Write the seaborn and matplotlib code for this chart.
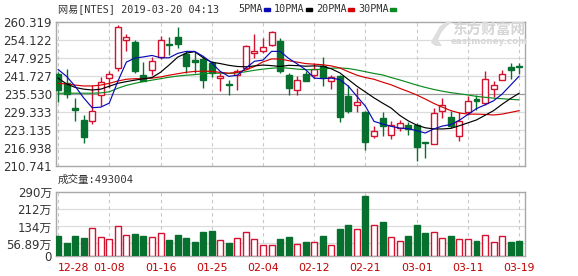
import numpy as np
import pandas as pd
import matplotlib
matplotlib.use("Agg")
import matplotlib.pyplot as plt
from matplotlib.patches import Polygon
import seaborn as sns

# ---------------- data ----------------
dates = ["12-28", "12-31", "01-02", "01-03", "01-04", "01-07", "01-08", "01-09", "01-10", "01-11",
         "01-14", "01-15", "01-16", "01-17", "01-18", "01-22", "01-23", "01-24", "01-25", "01-28",
         "01-29", "01-30", "01-31", "02-01", "02-04", "02-05", "02-06", "02-07", "02-08", "02-11",
         "02-12", "02-13", "02-14", "02-15", "02-19", "02-20", "02-21", "02-22", "02-25", "02-26",
         "02-27", "02-28", "03-01", "03-04", "03-05", "03-06", "03-07", "03-08", "03-11", "03-12",
         "03-13", "03-14", "03-15", "03-18", "03-19"]

open_ = [242.4, 239.2, 230.7, 226.6, 226.3, 235.1, 240.9, 244.5, 254.0, 253.4,
         242.0, 243.7, 248.3, 252.7, 255.2, 249.3, 247.3, 247.6, 246.1, 240.9,
         239.0, 242.2, 244.5, 249.5, 250.2, 252.3, 253.9, 242.0, 237.0, 242.4,
         242.0, 245.3, 240.1, 241.6, 234.7, 231.8, 229.2, 221.0, 227.3, 221.5,
         223.8, 225.0, 224.7, 219.0, 218.4, 229.8, 227.5, 221.0, 229.3, 233.8,
         232.4, 237.4, 240.5, 244.9, 245.1]
high = [243.1, 244.2, 234.2, 228.4, 238.7, 241.3, 243.5, 259.2, 256.2, 254.2,
        246.5, 248.2, 255.4, 255.0, 258.5, 250.2, 250.0, 248.2, 247.0, 242.8,
        240.5, 244.2, 252.5, 256.2, 254.8, 257.3, 254.8, 242.8, 241.6, 243.5,
        246.2, 248.2, 242.2, 242.0, 238.7, 237.6, 229.6, 224.4, 229.3, 226.1,
        226.6, 225.9, 225.5, 219.1, 230.7, 234.2, 229.6, 229.3, 234.7, 235.3,
        243.3, 239.9, 243.9, 246.2, 246.2]
low = [232.9, 234.2, 226.2, 218.7, 225.2, 231.3, 237.6, 243.3, 250.2, 242.8,
       239.9, 242.0, 247.7, 249.1, 251.4, 242.8, 242.8, 237.6, 241.5, 236.4,
       235.1, 237.0, 244.2, 247.9, 249.6, 252.0, 242.8, 235.3, 235.3, 239.9,
       241.0, 238.2, 237.4, 225.9, 229.0, 229.3, 216.4, 220.4, 221.0, 220.1,
       222.8, 221.3, 212.3, 213.5, 218.3, 227.3, 223.8, 219.3, 228.4, 230.1,
       231.8, 234.4, 240.5, 240.8, 242.4]
close = [237.0, 235.5, 230.0, 220.8, 229.6, 239.6, 242.4, 258.6, 255.0, 243.5,
         240.1, 247.0, 254.0, 252.3, 252.7, 245.3, 246.5, 240.5, 242.6, 241.6,
         238.7, 243.3, 252.2, 250.2, 251.6, 256.9, 243.3, 237.6, 240.2, 240.1,
         244.2, 241.3, 241.3, 227.6, 229.8, 232.8, 219.0, 222.7, 224.4, 224.9,
         225.5, 223.6, 217.3, 218.7, 229.0, 231.6, 224.4, 226.3, 233.0, 233.2,
         240.8, 238.5, 242.4, 243.7, 244.7]

# volume in 万 (10k shares)
volume = [90.2, 60.0, 90.0, 82.7, 125.0, 85.7, 76.7, 134.0, 94.7, 99.2,
          90.0, 85.7, 102.0, 72.0, 94.7, 81.0, 64.6, 108.0, 112.8, 70.6,
          58.6, 81.0, 106.7, 76.7, 49.6, 49.6, 76.7, 85.7, 52.6, 64.6,
          63.0, 90.0, 49.6, 123.0, 140.0, 122.0, 270.6, 140.0, 153.0, 85.7,
          67.7, 90.0, 140.0, 103.7, 106.7, 81.0, 90.0, 76.7, 76.7, 67.7,
          94.7, 63.0, 90.0, 63.0, 67.7]

ma5 = [244.0, 241.6, 238.2, 234.2, 230.8, 231.0, 232.4, 239.9, 246.5, 247.9,
       248.3, 248.8, 248.0, 248.0, 249.5, 250.2, 250.2, 248.5, 246.2, 243.3,
       241.6, 242.0, 244.5, 246.8, 247.2, 250.2, 250.2, 247.8, 245.9, 243.9,
       241.0, 240.8, 241.0, 240.5, 238.2, 234.7, 231.3, 226.1, 225.2, 224.4,
       223.8, 223.6, 222.9, 222.1, 223.5, 224.5, 225.0, 226.5, 228.5, 230.5,
       231.8, 233.2, 235.5, 238.6, 241.7]
ma10 = [241.0, 239.0, 237.8, 237.2, 236.9, 237.2, 238.2, 239.2, 239.8, 240.3,
        240.8, 241.2, 243.0, 245.5, 248.2, 249.6, 250.1, 248.0, 246.5, 246.0,
        245.4, 245.0, 244.9, 245.2, 245.5, 245.3, 245.0, 245.4, 245.3, 245.1,
        245.2, 245.1, 244.2, 242.8, 240.5, 238.2, 236.2, 234.2, 232.4, 230.7,
        228.2, 226.3, 224.8, 223.9, 223.5, 223.5, 223.7, 224.6, 225.6, 226.6,
        228.2, 229.8, 232.0, 234.0, 235.8]
ma20 = [239.2, 239.0, 238.6, 238.3, 238.3, 238.6, 239.2, 240.0, 240.6, 240.8,
        240.8, 241.0, 241.4, 242.0, 242.5, 243.0, 243.3, 243.4, 243.3, 243.0,
        242.7, 243.0, 243.8, 245.0, 246.6, 247.6, 247.6, 247.0, 246.5, 246.0,
        245.8, 245.6, 245.2, 244.5, 243.2, 242.0, 241.2, 240.6, 239.6, 238.7,
        237.5, 236.4, 235.2, 233.8, 232.3, 231.0, 229.8, 229.0, 228.6, 228.6,
        228.5, 228.3, 228.6, 229.2, 229.8]
ma30 = [235.8, 235.8, 235.8, 235.8, 235.8, 235.9, 236.3, 237.5, 238.5, 239.2,
        239.8, 240.3, 240.8, 241.3, 241.7, 242.0, 242.2, 242.5, 242.7, 242.7,
        242.6, 242.8, 243.2, 243.7, 244.1, 244.4, 244.6, 244.4, 244.1, 243.9,
        243.9, 244.1, 244.4, 244.5, 244.3, 243.8, 243.2, 242.6, 242.1, 241.2,
        240.4, 239.5, 238.6, 237.8, 237.1, 236.5, 236.0, 235.6, 235.2, 234.7,
        234.4, 234.1, 233.9, 233.7, 233.5]

price_ticks = [210.741, 216.938, 223.135, 229.333, 235.530, 241.727, 247.925, 254.122, 260.319]
vol_ticks = [0, 56.89, 134, 212, 290]
vol_labels = ["0", "56.89万", "134万", "212万", "290万"]
date_tick_idx = [0, 6, 12, 18, 24, 30, 36, 42, 48, 54]

# ---------------- style ----------------
sns.set_style("white")
plt.rcParams['font.family'] = ['DejaVu Sans', 'Noto Sans CJK SC']

RED = "#d2122e"
GREEN = "#08702f"
GRID = "#dcdcdc"
BORDER = "#a8a8a8"
TXT = "#333333"

df = pd.DataFrame({"i": np.arange(len(dates)), "date": dates, "open": open_, "high": high,
                   "low": low, "close": close, "vol": volume,
                   "ma5": ma5, "ma10": ma10, "ma20": ma20, "ma30": ma30})
df["up"] = df["close"] >= df["open"]

W, H = 578, 276
fig = plt.figure(figsize=(W / 100, H / 100), dpi=100)
ax = fig.add_axes([56 / W, 1 - 166 / H, 469 / W, 144 / H])
axv = fig.add_axes([56 / W, 1 - 256 / H, 469 / W, 64 / H])

xlim = (-0.24, 54.68)

# ---------------- price panel ----------------
for y in price_ticks[1:-1]:
    ax.axhline(y, color="#9a9a9a" if abs(y - 235.53) < 0.01 else GRID, lw=0.9, zorder=0)
for t in date_tick_idx:
    ax.axvline(t, color="#c8c8c8", lw=0.8, ls=(0, (3, 3)), zorder=0)

bw = 0.7
for _, r in df.iterrows():
    col = RED if r["up"] else GREEN
    ax.vlines(r["i"], r["low"], r["high"], color=col, lw=1.0, zorder=2)
    lo = min(r["open"], r["close"])
    h = max(abs(r["close"] - r["open"]), 0.3)
    ax.bar(r["i"], h, bottom=lo, width=bw, facecolor="white" if r["up"] else GREEN,
           edgecolor=col, lw=1.0, zorder=3)

for col_name, c in [("ma30", "#0b8a1f"), ("ma20", "#d40000"), ("ma10", "#000000"), ("ma5", "#0a0ab4")]:
    sns.lineplot(data=df, x="i", y=col_name, ax=ax, color=c, lw=0.85, zorder=4, legend=False)

ax.set_xlim(*xlim)
ax.set_ylim(price_ticks[0], price_ticks[-1])
ax.set_yticks(price_ticks)
ax.set_yticklabels([f"{v:.3f}" for v in price_ticks])
ax.set_xticks([])
ax.set_xlabel("")
ax.set_ylabel("")
ax.tick_params(axis="y", length=0, pad=3, labelsize=8.5, labelcolor=TXT)
for s in ax.spines.values():
    s.set_color(BORDER)
    s.set_linewidth(1.0)
    s.set_visible(True)

# watermark logo (light swirl) + text
logo_x = np.array([432, 440, 448, 452, 446, 441, 438, 442, 436, 431])
logo_y = np.array([40, 26, 21, 22, 27, 33, 40, 46, 46, 43])
fig.patches.append(Polygon(np.column_stack([logo_x / W, 1 - logo_y / H]), closed=True,
                           transform=fig.transFigure, facecolor="#dedede", edgecolor="none",
                           figure=fig))
fig.text(489 / W, 1 - 30 / H, "东方财富网", family=['Noto Sans CJK SC'], fontsize=10.5,
         weight="bold", color="#d6d6d6", va="center", ha="center")
fig.text(489 / W, 1 - 42 / H, "eastmoney.com", family=['DejaVu Sans'], fontsize=6.3,
         weight="bold", color="#d6d6d6", va="center", ha="center")

# ---------------- volume panel ----------------
for y in vol_ticks[1:-1]:
    axv.axhline(y, color=GRID, lw=0.9, zorder=0)
for t in date_tick_idx:
    axv.axvline(t, color="#c8c8c8", lw=0.8, ls=(0, (3, 3)), zorder=0)
for _, r in df.iterrows():
    col = RED if r["up"] else GREEN
    axv.bar(r["i"], r["vol"], width=bw, facecolor="white" if r["up"] else GREEN,
            edgecolor=col, lw=1.0, zorder=3)
axv.set_xlim(*xlim)
axv.set_ylim(0, 290)
axv.set_yticks(vol_ticks)
axv.set_yticklabels(vol_labels)
axv.set_xticks(date_tick_idx)
axv.set_xticklabels([dates[i] for i in date_tick_idx])
axv.tick_params(axis="y", length=0, pad=3, labelsize=8.5, labelcolor=TXT)
axv.tick_params(axis="x", length=0, pad=5, labelsize=7.8, labelcolor="#c00000")
axv.get_xticklabels()[0].set_horizontalalignment("left")
for lbl in axv.get_yticklabels():
    lbl.set_family(['DejaVu Sans', 'Noto Sans CJK SC'])
axv.set_xlabel("")
axv.set_ylabel("")
for s in axv.spines.values():
    s.set_color(BORDER)
    s.set_linewidth(1.0)
    s.set_visible(True)

# ---------------- header texts ----------------
mono = ['DejaVu Sans Mono', 'Noto Sans CJK SC']
fig.text(58 / W, 1 - 9 / H, "网易[NTES] 2019-03-20 04:13", family=mono, fontsize=7.3,
         color=TXT, va="center", ha="left")
legend_items = [("5PMA", "#0a0ab4", 238), ("10PMA", "#000000", 274),
                ("20PMA", "#d40000", 316), ("30PMA", "#0b8a1f", 358)]
for lab, c, x0 in legend_items:
    fig.text(x0 / W, 1 - 9 / H, lab, family=mono, fontsize=7.3, color=TXT, va="center", ha="left")
    mx = x0 + 6 * len(lab) + 2
    fig.patches.append(plt.Rectangle((mx / W, 1 - 11 / H), 6 / W, 3 / H,
                                     transform=fig.transFigure, color=c, figure=fig))

fig.text(58 / W, 1 - 180 / H, "成交量:493004", family=mono, fontsize=7.6,
         color=TXT, va="center", ha="left")

fig.savefig("out.png", dpi=100)
